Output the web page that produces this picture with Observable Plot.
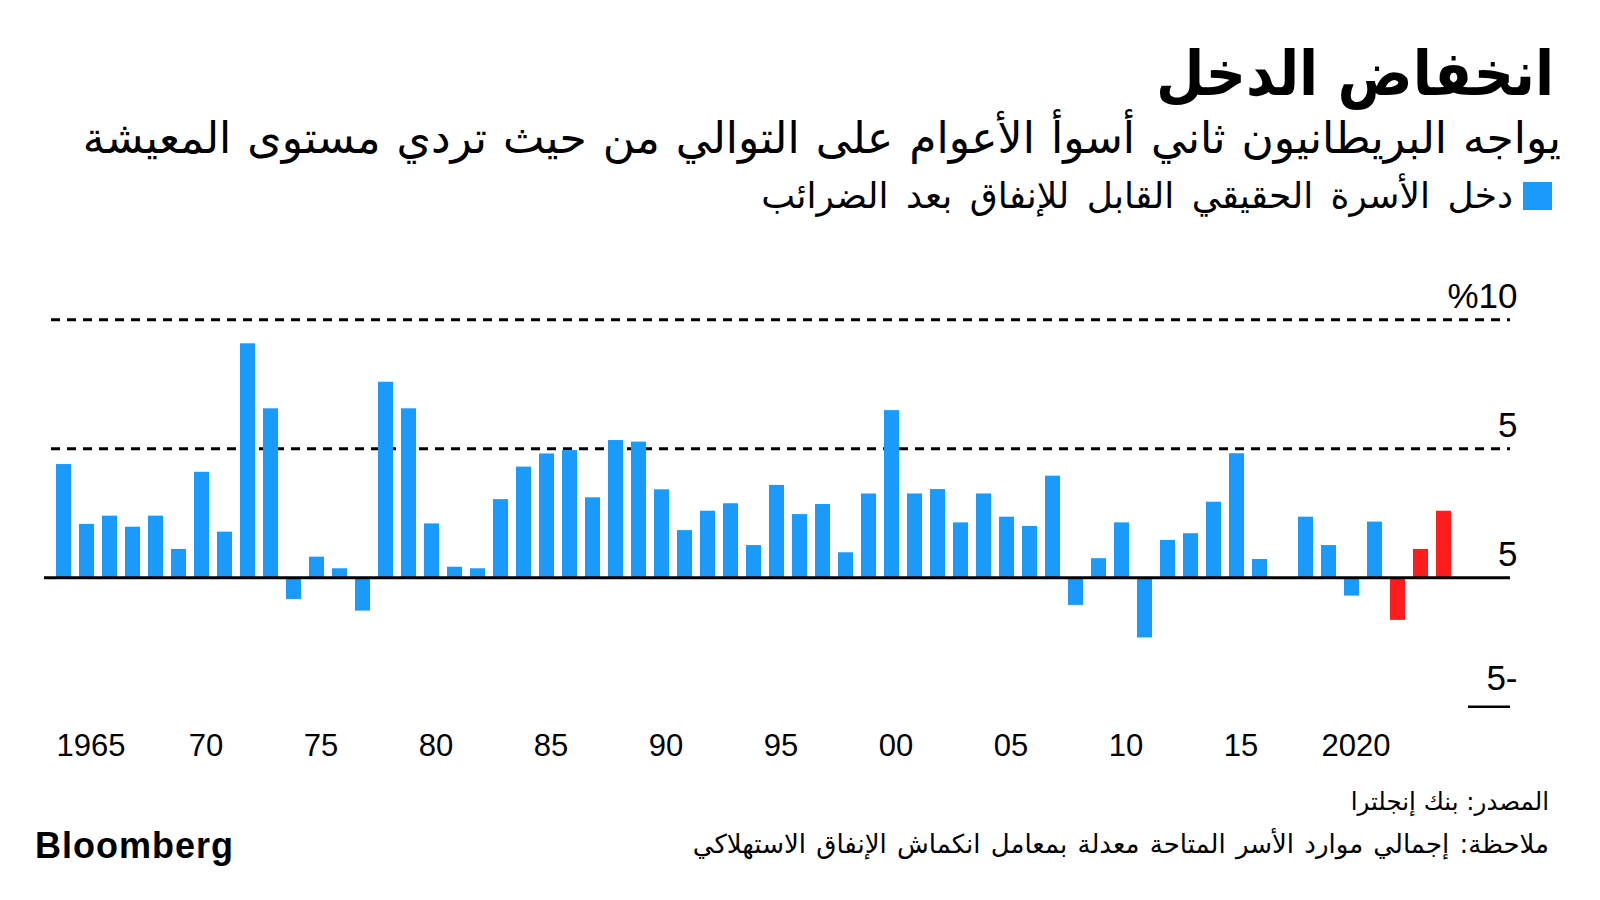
<!DOCTYPE html>
<html lang="ar">
<head>
<meta charset="utf-8">
<script src="https://cdn.jsdelivr.net/npm/d3@7"></script>
<script src="https://cdn.jsdelivr.net/npm/@observablehq/plot@0.6"></script>
<style>
  html, body { margin: 0; padding: 0; background: #fff; }
  #root { position: relative; width: 1600px; height: 900px; background: #fff; overflow: hidden; }
  .ar { position: absolute; direction: rtl; text-align: right; white-space: nowrap; color: #000;
        font-family: "DejaVu Sans", sans-serif; line-height: 1; }
  #title { right: 46px; top: 43px; font-size: 62px; font-weight: bold; font-family: "DejaVu Sans Condensed", "DejaVu Sans", sans-serif; }
  #subtitle { right: 39px; top: 116px; font-size: 44px; word-spacing: 2px; }
  #legend { right: 48px; top: 178px; font-size: 36px; word-spacing: 6px; display: flex; align-items: center; gap: 10px; }
  #legend .sw { width: 29px; height: 28px; display: inline-block; }
  #source { right: 51px; top: 790px; font-size: 24.5px; }
  #note { right: 51px; top: 831px; font-size: 26px; word-spacing: 2px; }
  #logo { position: absolute; left: 35px; top: 828px; font-family: "Liberation Sans", Arial, sans-serif;
          font-weight: bold; font-size: 36px; letter-spacing: 1px; color: #000; line-height: 1; }
  #chart { position: absolute; left: 0; top: 270px; }
</style>
</head>
<body>
<div id="root">
  <div id="title" class="ar"></div>
  <div id="subtitle" class="ar"></div>
  <div id="legend" class="ar"><span class="sw"></span><span id="legendText"></span></div>
  <div id="chart"></div>
  <div id="source" class="ar"></div>
  <div id="note" class="ar"></div>
  <div id="logo">Bloomberg</div>
</div>
<script>
// ---- Data ----
const years = [1964, 1965, 1966, 1967, 1968, 1969, 1970, 1971, 1972, 1973,
  1974, 1975, 1976, 1977, 1978, 1979, 1980, 1981, 1982, 1983,
  1984, 1985, 1986, 1987, 1988, 1989, 1990, 1991, 1992, 1993,
  1994, 1995, 1996, 1997, 1998, 1999, 2000, 2001, 2002, 2003,
  2004, 2005, 2006, 2007, 2008, 2009, 2010, 2011, 2012, 2013,
  2014, 2015, 2016, 2017, 2018, 2019, 2020, 2021, 2022, 2023, 2024];
const incomeGrowth = [4.39, 2.07, 2.39, 1.96, 2.39, 1.10, 4.09, 1.77, 9.07, 6.55,
  -0.84, 0.80, 0.35, -1.29, 7.58, 6.55, 2.09, 0.41, 0.35, 3.03,
  4.29, 4.80, 4.93, 3.10, 5.32, 5.26, 3.41, 1.83, 2.58, 2.87,
  1.25, 3.58, 2.45, 2.84, 0.97, 3.25, 6.48, 3.25, 3.42, 2.13,
  3.25, 2.35, 1.99, 3.94, -1.07, 0.74, 2.13, -2.33, 1.45, 1.71,
  2.93, 4.81, 0.71, 0.00, 2.35, 1.25, -0.71, 2.16, -1.65, 1.10, 2.58];
const highlightYears = [2022, 2023, 2024];
const xTickYears = [1965, 1970, 1975, 1980, 1985, 1990, 1995, 2000, 2005, 2010, 2015, 2020];
const xTickLabels = ["1965", "70", "75", "80", "85", "90", "95", "00", "05", "10", "15", "2020"];
const yTicks = [-5, 0, 5, 10];
const yTickLabels = ["5-", "5", "5", "%10"];
const gridValues = [5, 10];

const titleText = "انخفاض الدخل";
const subtitleText = "يواجه البريطانيون ثاني أسوأ الأعوام على التوالي من حيث تردي مستوى المعيشة";
const legendLabel = "دخل الأسرة الحقيقي القابل للإنفاق بعد الضرائب";
const sourceText = "المصدر: بنك إنجلترا";
const noteText = "ملاحظة: إجمالي موارد الأسر المتاحة معدلة بمعامل انكماش الإنفاق الاستهلاكي";

// ---- Styles ----
const BLUE = "#1a9bfc";
const RED = "#fe1c1c";

document.getElementById("title").textContent = titleText;
document.getElementById("subtitle").textContent = subtitleText;
document.getElementById("legendText").textContent = legendLabel;
document.querySelector("#legend .sw").style.background = BLUE;
document.getElementById("source").textContent = sourceText;
document.getElementById("note").textContent = noteText;

const rows = years.map((year, i) => ({year, value: incomeGrowth[i]}));
const fmt = new Map(xTickYears.map((y, i) => [y, xTickLabels[i]]));
const yLabelRows = yTicks.map((v, i) => ({v, label: yTickLabels[i]}));

const yLabelStyle = {
  y: "v", text: "label", frameAnchor: "right", textAnchor: "end",
  lineAnchor: "bottom", dx: 7, fontSize: 35, fill: "#000"
};

const chart = Plot.plot({
  width: 1600,
  height: 500,
  marginTop: 49.3,
  marginBottom: 63.7,
  marginLeft: 44,
  marginRight: 90,
  x: {type: "band", domain: years, range: [46, 1461.3], padding: 0.35},
  y: {domain: [-5, 10], axis: null},
  style: {fontFamily: "'Liberation Sans', Arial, sans-serif", background: "white", color: "#000", overflow: "visible"},
  marks: [
    Plot.ruleY(gridValues, {stroke: "#000", strokeWidth: 3, strokeDasharray: "9,7", insetLeft: 7}),
    Plot.barY(rows, {filter: d => !highlightYears.includes(d.year), x: "year", y: "value", fill: BLUE}),
    Plot.barY(rows, {filter: d => highlightYears.includes(d.year), x: "year", y: "value", fill: RED}),
    Plot.ruleY([0], {stroke: "#000", strokeWidth: 3}),
    Plot.ruleY([-5], {stroke: "#000", strokeWidth: 2.5, insetLeft: 1424}),
    Plot.text(yLabelRows, {...yLabelStyle, filter: d => d.v >= 0, dy: -12}),
    Plot.text(yLabelRows, {...yLabelStyle, filter: d => d.v < 0, dy: -17}),
    Plot.axisX({
      ticks: xTickYears, tickFormat: d => fmt.get(d), tickSize: 0, tickPadding: 27,
      fontSize: 31, dx: 4, anchor: "bottom", label: null, fill: "#000"
    })
  ]
});
document.getElementById("chart").appendChild(chart);
</script>
</body>
</html>
